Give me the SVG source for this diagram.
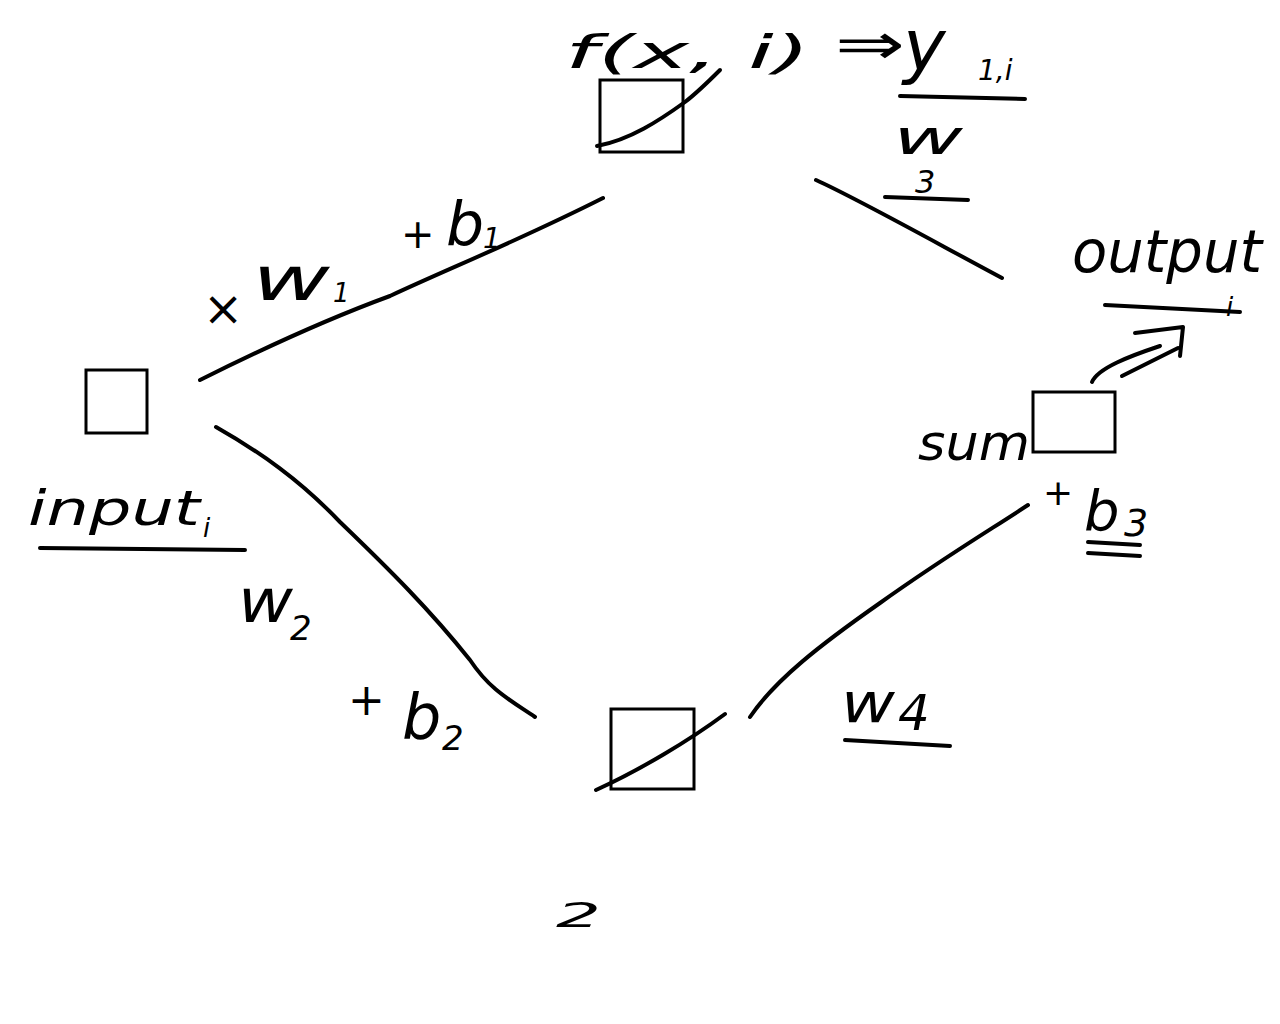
<svg xmlns="http://www.w3.org/2000/svg" width="1280" height="1024" viewBox="0 0 1280 1024">
<style>
.box{fill:#fff;stroke:#000;stroke-width:3}
.ink{fill:none;stroke:#000;stroke-width:4;stroke-linecap:round;stroke-linejoin:round}
.t{font-family:"DejaVu Sans","Liberation Sans",sans-serif;fill:#000;font-style:italic}
</style>
<rect width="1280" height="1024" fill="#fff"/>
<g id="connectors">
<path class="ink" d="M200,380 C260,350 330,318 390,296 C450,268 520,240 603,198"/>
<path class="ink" d="M216,427 C260,452 300,480 340,522 C390,570 430,610 470,660 C490,690 510,700 535,717"/>
<path class="ink" d="M816,180 C860,200 940,245 1002,278"/>
<path class="ink" d="M750,717 C775,680 820,645 880,603 C940,560 990,530 1028,505"/>
<path class="ink" d="M1092,382 C1098,368 1130,356 1160,346"/>
<path class="ink" d="M1122,376 C1140,367 1160,357 1178,348"/>
<path class="ink" d="M1135,333 L1183,327 L1180,356"/>
</g>
<g id="node-input">
<rect class="box" x="86" y="370" width="61" height="63"/>
<text class="t" x="28" y="525" font-size="48" textLength="172" lengthAdjust="spacingAndGlyphs">input</text>
<text class="t" x="203" y="537" font-size="26">i</text>
<path class="ink" d="M40,548 L245,550"/>
</g>
<g id="node-f">
<rect class="box" x="600" y="80" width="83" height="72"/>
<path class="ink" d="M597,146 C630,140 660,120 685,102 C698,92 710,80 720,70"/>
<text class="t" x="565" y="68" font-size="46" textLength="245" lengthAdjust="spacingAndGlyphs">f(x, i)</text>
<text class="t" x="835" y="64" font-size="58" textLength="70" lengthAdjust="spacingAndGlyphs">⇒</text>
<text class="t" x="903" y="70" font-size="72">y</text>
<text class="t" x="978" y="80" font-size="28">1,i</text>
<path class="ink" d="M900,96 L1025,99"/>
</g>
<g id="node-bottom">
<rect class="box" x="611" y="709" width="83" height="80"/>
<path class="ink" d="M596,790 C640,770 690,740 725,714"/>
<text class="t" x="556" y="927" font-size="34" textLength="45" lengthAdjust="spacingAndGlyphs">2</text>
</g>
<g id="node-sum">
<rect class="box" x="1033" y="392" width="82" height="60"/>
<text class="t" x="918" y="460" font-size="50" textLength="112" lengthAdjust="spacingAndGlyphs">sum</text>
<text class="t" x="1043" y="505" font-size="36">+</text>
<text class="t" x="1084" y="530" font-size="56">b</text>
<text class="t" x="1124" y="536" font-size="38">3</text>
<path class="ink" d="M1088,542 L1140,545"/>
<path class="ink" d="M1088,553 L1140,556"/>
<text class="t" x="1072" y="272" font-size="58" textLength="190" lengthAdjust="spacingAndGlyphs">output</text>
<text class="t" x="1226" y="316" font-size="26">i</text>
<path class="ink" d="M1105,305 L1240,312"/>
</g>
<g id="labels">
<text class="t" x="203" y="325" font-size="48">×</text>
<text class="t" x="252" y="300" font-size="60" textLength="78" lengthAdjust="spacingAndGlyphs">w</text>
<text class="t" x="333" y="302" font-size="26">1</text>
<text class="t" x="401" y="248" font-size="40">+</text>
<text class="t" x="446" y="245" font-size="60">b</text>
<text class="t" x="483" y="248" font-size="28">1</text>
<text class="t" x="893" y="154" font-size="48" textLength="70" lengthAdjust="spacingAndGlyphs">w</text>
<text class="t" x="915" y="193" font-size="32">3</text>
<path class="ink" d="M885,197 L968,200"/>
<text class="t" x="238" y="622" font-size="60" textLength="55" lengthAdjust="spacingAndGlyphs">w</text>
<text class="t" x="290" y="640" font-size="34">2</text>
<text class="t" x="348" y="715" font-size="44">+</text>
<text class="t" x="402" y="738" font-size="62">b</text>
<text class="t" x="442" y="750" font-size="34">2</text>
<text class="t" x="841" y="722" font-size="56" textLength="54" lengthAdjust="spacingAndGlyphs">w</text>
<text class="t" x="898" y="730" font-size="50">4</text>
<path class="ink" d="M845,740 L950,746"/>
</g>
</svg>
